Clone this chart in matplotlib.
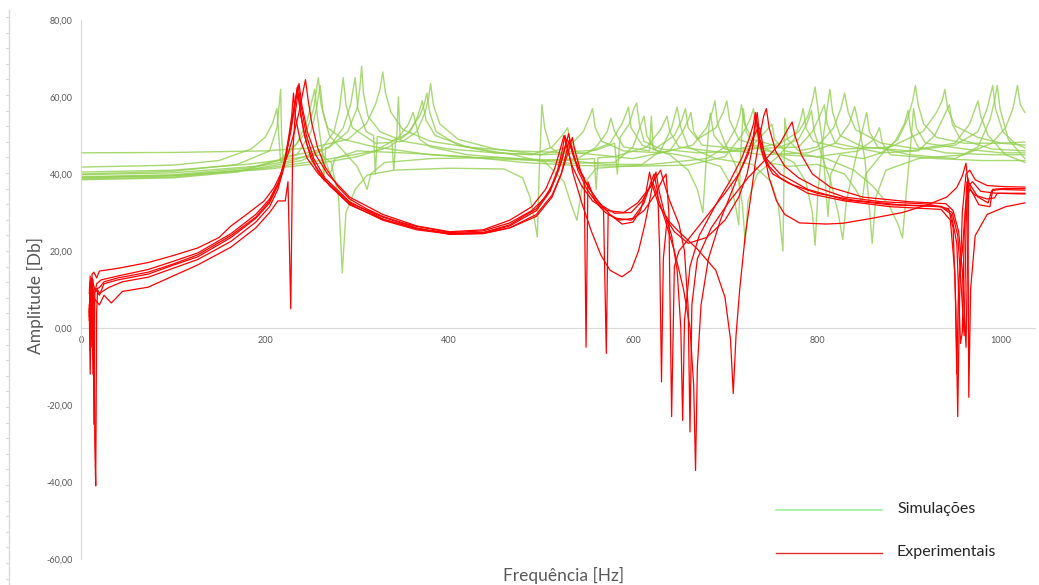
import matplotlib
matplotlib.use("Agg")
import matplotlib.pyplot as plt
from matplotlib.lines import Line2D
import numpy as np

plt.rcParams['font.family'] = ['Lato', 'DejaVu Sans']

# Curvas simuladas (frequência [Hz], amplitude [Db])
SIM_1 = [(0, 45.5), (100, 45.6), (200, 46), (250, 46.8), (290, 49), (310, 53), (320, 58), (325, 62), (328, 66.5),
         (331, 61), (337, 56), (350, 51.5), (380, 48.5), (420, 47), (470, 46), (520, 45.6), (560, 46.2), (580, 48),
         (583, 40), (586, 49.5), (596, 53), (601, 57), (604, 58.4), (607, 53), (612, 48.5), (630, 46.5), (670, 45.5),
         (720, 46), (760, 48), (780, 51), (790, 55), (795, 59), (798, 62.6), (801, 57), (806, 48), (810, 35),
         (812, 29), (815, 40), (825, 45), (850, 44), (870, 45.5), (888, 49), (898, 54), (904, 59), (907, 63),
         (910, 58), (916, 53), (930, 49.5), (960, 48), (1000, 48), (1026, 48.3)]
SIM_2 = [(0, 41.8), (100, 42.3), (150, 43.5), (185, 46.5), (200, 49.5), (208, 53), (213, 57), (215, 50), (217, 43),
         (222, 44.5), (245, 45.5), (262, 46.5), (264, 38), (266, 46.8), (270, 47), (290, 51), (300, 57), (303, 62),
         (305, 68), (307, 61), (312, 55), (325, 51), (350, 48.5), (400, 46.5), (450, 45.5), (500, 45), (530, 47),
         (546, 51), (553, 55), (556, 57), (559, 52), (566, 48.5), (590, 46), (630, 45.5), (665, 47.5), (680, 52),
         (686, 56), (689, 59), (692, 53), (700, 48), (712, 42), (719, 32), (722, 22), (725, 33), (735, 40),
         (755, 44), (775, 49), (782, 54), (785, 57), (788, 52), (796, 48.5), (830, 46.5), (880, 47), (915, 51),
         (930, 56), (936, 59), (939, 62), (942, 57), (950, 52.5), (975, 49.5), (1000, 48), (1026, 47.5)]
SIM_3 = [(0, 40.5), (100, 41), (180, 42.5), (230, 44), (260, 45), (272, 43), (280, 34), (284, 14.3), (288, 30),
         (298, 36), (311, 39.7), (340, 41), (400, 41.5), (460, 41.3), (480, 39), (488, 34), (493, 28), (496, 23.6),
         (498, 40), (501, 58), (504, 52), (510, 47), (530, 43.5), (570, 42.5), (610, 42.5), (630, 46), (642, 52),
         (648, 57.4), (652, 52), (660, 47), (690, 44), (730, 42.5), (750, 38), (758, 32), (763, 20), (765, 54.5),
         (768, 49), (780, 46), (800, 47), (818, 52), (826, 57), (830, 61), (834, 56), (842, 51.5), (870, 48),
         (910, 46.5), (950, 48), (966, 53), (972, 57), (975, 59), (978, 55), (986, 50), (1005, 45), (1026, 43)]
SIM_4 = [(0, 40), (100, 40.7), (170, 42.5), (205, 46), (213, 52), (217, 62), (218, 50), (220, 43), (228, 46),
         (245, 51), (253, 57), (256, 62), (258, 65), (261, 58), (268, 52), (285, 49), (320, 47), (380, 45),
         (440, 44), (500, 43.5), (540, 44), (560, 47), (572, 51), (576, 54.5), (580, 51), (590, 47), (618, 46),
         (620, 55), (622, 46.2), (645, 50), (653, 54), (657, 57), (660, 52), (670, 49), (690, 52), (698, 56),
         (702, 59), (705, 54), (715, 49), (750, 46), (775, 43), (788, 38), (795, 30), (798, 21.5), (801, 35),
         (806, 48), (811, 57), (814, 62), (817, 56), (825, 50), (850, 47), (900, 46), (950, 47.5), (975, 51),
         (985, 57), (991, 63), (994, 57), (1002, 51), (1015, 48), (1026, 46.8)]
SIM_5 = [(0, 39.3), (100, 39.8), (180, 41.5), (230, 43.5), (260, 46), (275, 51), (281, 57), (285, 65), (288, 58),
         (295, 52), (320, 48), (338, 48.2), (340, 41), (342, 48.3), (350, 48.5), (365, 51), (374, 56), (378, 60),
         (380, 63.5), (383, 58), (390, 53), (410, 49), (450, 46.5), (500, 45), (550, 45.5), (575, 48), (588, 53),
         (593, 56), (595, 57.4), (598, 52), (610, 47.5), (640, 45), (660, 41), (670, 36), (676, 30), (680, 45),
         (684, 55.8), (688, 50), (700, 46.5), (740, 45), (790, 45.5), (820, 48), (835, 53), (841, 57.5), (846, 52),
         (852, 44), (856, 34), (860, 22), (864, 34), (875, 41), (910, 44), (960, 45), (990, 48), (1005, 52),
         (1013, 57), (1018, 63), (1021, 58), (1026, 56)]
SIM_6 = [(0, 38.7), (100, 39.2), (180, 41), (240, 43.5), (270, 47), (285, 52), (293, 58), (298, 65), (301, 57),
         (310, 51), (318, 50), (320, 40), (322, 49.8), (340, 48.5), (358, 51), (366, 55), (371, 59), (375, 54),
         (385, 50), (420, 47), (470, 45), (505, 43), (525, 38), (533, 32), (539, 28), (545, 37), (560, 41.5),
         (620, 42.5), (680, 44), (700, 47), (712, 52), (716, 55), (718, 58), (721, 53), (730, 49), (760, 47),
         (780, 49), (789, 53), (794, 56.5), (797, 51), (805, 45), (815, 38), (823, 30), (828, 23), (832, 33),
         (842, 44), (849, 51), (854, 56), (857, 51), (866, 47), (900, 45), (950, 44), (975, 47), (988, 54),
         (993, 59), (996, 63), (999, 57), (1008, 49), (1026, 44)]
SIM_7 = [(0, 38.5), (100, 39), (170, 40.5), (215, 43.5), (235, 48), (246, 54), (251, 59), (254, 62), (257, 55),
         (262, 46), (268, 42), (271, 40), (276, 44), (300, 46), (350, 45.5), (420, 44.5), (480, 43), (540, 42.2),
         (600, 42), (660, 42.3), (700, 44.5), (718, 50), (727, 54), (731, 57), (733, 53), (737, 47), (745, 43),
         (770, 42), (800, 42.5), (830, 40), (842, 36), (849, 33), (853, 40), (870, 45), (885, 48.5), (895, 53),
         (899, 56.5), (902, 51), (910, 47), (940, 45.5), (990, 45), (1026, 45)]
SIM_8 = [(0, 39), (100, 39.5), (200, 41.5), (260, 43.5), (320, 46), (345, 49.5), (356, 53), (361, 56), (364, 53),
         (368, 49), (380, 47), (420, 45), (470, 44), (530, 42.8), (580, 43), (600, 47), (608, 52.5), (612, 55),
         (615, 50), (625, 46), (660, 44.5), (695, 42), (707, 37), (712, 31), (715, 26.8), (717, 45), (720, 57),
         (723, 51), (732, 47), (760, 45), (800, 44.5), (845, 46), (862, 49), (868, 52), (871, 48), (880, 45),
         (930, 44), (980, 43.5), (1026, 43.5)]
SIM_9 = [(0, 39.8), (100, 40.3), (190, 42), (235, 45), (250, 51), (256, 57), (260, 63), (263, 56), (270, 50),
         (285, 46), (300, 42), (307, 38.5), (311, 36), (315, 40), (330, 43), (380, 44), (450, 44.3), (520, 43.5),
         (558, 44), (560, 36), (562, 44.2), (580, 44.5), (615, 47), (630, 51.5), (637, 55), (640, 51), (650, 47),
         (700, 45.5), (730, 47.5), (744, 51), (751, 53), (754, 49), (765, 46), (810, 44), (840, 41), (860, 37),
         (878, 32), (888, 27), (893, 23.4), (897, 35), (902, 48), (905, 57), (908, 52), (918, 48), (960, 46.5),
         (1000, 45.5), (1026, 45.5)]
SIM_10 = [(0, 39.1), (100, 39.6), (200, 41.2), (260, 42.8), (300, 44.5), (335, 47), (343, 48.5), (345, 60),
          (347, 49), (355, 50.5), (368, 55), (373, 58), (376, 61), (379, 56), (386, 51), (410, 47.5), (450, 45.5),
          (490, 45), (512, 47), (523, 50), (529, 52), (532, 48), (540, 45.5), (600, 44), (640, 46), (654, 51),
          (660, 54), (663, 56), (666, 51), (675, 47.5), (720, 46.5), (780, 47), (795, 51), (803, 55), (808, 58),
          (811, 53), (820, 48), (870, 45.5), (910, 46), (928, 50), (938, 55), (944, 58), (947, 53), (956, 49),
          (990, 46.5), (1026, 46)]

# Curvas experimentais
EXP_1 = [(9, 9), (10, 13.5), (11, 2), (12, 14), (14, 14.5), (17, 13), (20, 14.8), (40, 15.5), (73, 17), (100, 18.8),
         (127, 20.8), (150, 23.5), (163, 26.5), (180, 29.5), (199, 33), (210, 36.5), (218, 40.5), (226, 46),
         (232, 51), (237, 56), (241, 61), (244, 64.5), (247, 59), (251, 53), (257, 47), (265, 42), (280, 36.5),
         (292, 33.5), (310, 31), (328, 29), (350, 27.3), (365, 26.4), (401, 24.8), (437, 25.2), (466, 27.3),
         (490, 30.5), (505, 34), (515, 38.5), (522, 43), (527, 47.5), (530, 50.5), (533, 47), (538, 43), (548, 38),
         (560, 33.5), (575, 29.5), (588, 27), (600, 27.5), (608, 30.5), (614, 35), (618, 40.5), (621, 37),
         (628, 32), (640, 27.5), (650, 25), (670, 20.5), (690, 15), (700, 8), (706, -3), (709, -17), (712, -2),
         (716, 10), (722, 24), (728, 34), (733, 43), (738, 50), (742, 55), (745, 57), (748, 52), (755, 46),
         (765, 42), (780, 39), (800, 36.5), (830, 34), (870, 32.8), (920, 32.2), (943, 31), (948, 26), (951, 5),
         (953, -23), (955, 8), (958, 30), (962, 40), (966, 41), (972, 38.5), (985, 37), (1005, 36.7), (1026, 36.6)]
EXP_2 = [(9, 6), (10, -6), (11, 11), (13, 12.5), (14, -25), (15, 9), (17, 11.5), (22, 12.5), (40, 13.5), (73, 15.2),
         (100, 17.3), (127, 19.5), (163, 24.5), (190, 29.5), (205, 33.5), (215, 38), (222, 44), (228, 51),
         (232, 57), (235, 62.5), (238, 57), (243, 50), (250, 44), (262, 39), (292, 32), (328, 28.2), (365, 25.8),
         (401, 24.5), (437, 24.7), (466, 26.5), (495, 30.5), (510, 35.5), (519, 41), (525, 46), (528, 49),
         (531, 48), (536, 44), (542, 41), (547, 39), (549, -5), (551, 38), (558, 33.5), (570, 30), (585, 28),
         (600, 28.5), (612, 32.5), (619, 37.5), (623, 40), (627, 35), (629, 20), (631, -14), (633, 18), (637, 28),
         (645, 25), (660, 22), (680, 23.5), (700, 28), (715, 34), (724, 40), (730, 47), (733, 53), (735, 56),
         (738, 49), (745, 44), (760, 40), (790, 36), (830, 33.3), (880, 32), (935, 31.5), (946, 29.5), (952, 22),
         (956, -4), (958, -1), (960, 24), (963, 38), (967, 37), (975, 34), (986, 32.5), (990, 35.7), (1000, 36),
         (1026, 35.8)]
EXP_3 = [(9, 3), (10, 10), (11, -3), (12, 11.5), (13, -12), (14, 9), (16, 10), (20, 8.5), (25, 11.5), (40, 12.5),
         (73, 14), (100, 16.3), (127, 18.5), (163, 23.5), (190, 28.5), (205, 32.5), (214, 37), (221, 43), (226, 50),
         (229, 55), (231, 61), (233, 55), (238, 49), (246, 44), (258, 40), (292, 32.5), (328, 28.8), (365, 26),
         (401, 24.3), (437, 24.5), (466, 26), (495, 29), (512, 34), (522, 40), (527, 45), (531, 49), (534, 46.5),
         (540, 41), (550, 36), (562, 32), (568, 30.5), (571, -6.6), (573, 29.5), (582, 28.5), (598, 28), (612, 30.5),
         (625, 35), (632, 38.5), (636, 40), (639, 30), (642, -23), (645, 16), (650, 20), (660, 23), (680, 29),
         (700, 35), (715, 40), (725, 45), (731, 50), (734, 55), (736, 51), (740, 46), (748, 42), (760, 39),
         (790, 35), (830, 33), (880, 31.5), (935, 30.8), (945, 28), (950, 14), (952, -12), (954, 12), (958, 20),
         (962, 33), (966, 36), (972, 34.5), (985, 33.5), (993, 33.8), (996, 35), (1026, 35)]
EXP_4 = [(9, 4), (10, 12), (11, -2), (12, 12.5), (15, 10), (20, 10.5), (25, 12), (40, 13), (73, 14.5), (100, 16.6),
         (127, 19), (163, 24), (190, 28.8), (205, 33), (215, 38), (223, 45), (228, 52), (232, 58), (236, 63),
         (239, 58), (245, 50), (253, 44), (265, 39), (292, 32.8), (328, 28.3), (365, 25.8), (401, 24.6), (437, 24.8),
         (466, 26.8), (495, 31), (510, 36), (518, 41), (523, 46), (526, 50), (529, 47), (535, 40), (545, 32),
         (555, 25), (565, 19), (575, 15), (588, 13.3), (598, 15), (606, 20), (613, 27), (618, 33), (622, 38),
         (625, 40.5), (628, 36), (634, 30), (642, 24), (648, 15), (652, 0), (654, -24), (656, 2), (662, 16),
         (672, 24), (690, 32), (705, 38), (718, 44), (726, 49), (731, 53), (733, 56), (736, 50), (742, 44),
         (752, 40), (770, 37.5), (800, 35), (840, 33.2), (890, 32), (935, 31.6), (947, 30), (953, 24), (957, 10),
         (960, -2), (962, 26), (964, 39), (967, 36), (976, 32), (988, 31.5), (991, 36), (1000, 36.2), (1026, 36.2)]
EXP_5 = [(9, 2), (10, 11), (11, -5), (12, 8), (13, 4.5), (15, 7.5), (20, 6), (25, 8.5), (33, 6.5), (45, 9.5),
         (73, 10.6), (100, 13.5), (127, 16.4), (163, 21), (190, 26), (205, 30), (214, 33), (222, 33), (225, 38),
         (228, 5), (230, 45), (233, 56), (236, 61), (239, 55), (245, 48), (255, 42), (270, 37), (292, 32.2),
         (328, 28), (365, 25.5), (401, 24.4), (437, 24.6), (466, 26), (495, 29.5), (512, 34.5), (522, 40), (530, 46),
         (534, 49.5), (537, 46), (544, 40), (553, 36), (565, 32), (580, 29.8), (598, 30), (610, 33), (622, 38),
         (630, 41), (634, 37.5), (640, 33), (650, 27), (656, 20), (660, 5), (662, -27), (664, 6), (670, 18),
         (685, 26), (705, 33), (725, 39), (745, 44), (760, 48), (768, 51.5), (773, 53.5), (776, 50), (783, 45),
         (795, 40), (815, 36.5), (850, 34), (900, 32.8), (940, 32.3), (948, 30.5), (954, 25), (958, 15), (962, -5),
         (965, 37), (969, 38), (978, 35.5), (995, 35), (1026, 34.8)]
EXP_6 = [(9, 5), (10, -12), (11, 9), (12, 13), (13, -8), (14, 10), (15, -30), (16, -41), (17, 4), (18, 10), (20, 9),
         (30, 10.5), (45, 12), (73, 13.2), (100, 15.5), (127, 17.8), (163, 22.5), (190, 27.5), (205, 31.5), (214, 36),
         (221, 42), (226, 49), (230, 55), (234, 60), (237, 63.5), (240, 58), (246, 51), (255, 45), (268, 40),
         (292, 34), (328, 29.5), (365, 26.5), (401, 25), (437, 25.5), (466, 28), (490, 31.5), (505, 36), (515, 41.5),
         (521, 46.5), (525, 50), (528, 47), (534, 42), (544, 37), (556, 33), (572, 30.5), (590, 30), (605, 32.5),
         (615, 35.5), (622, 37.5), (627, 34), (635, 28), (645, 20), (655, 10), (662, 0), (666, -15), (668, -37),
         (670, -10), (674, 6), (682, 18), (695, 28), (710, 37), (722, 44), (730, 49), (735, 51.5), (738, 52),
         (742, 46), (748, 39), (756, 33), (765, 29.5), (781, 27.3), (810, 27), (828, 27.2), (860, 28.5), (893, 30),
         (920, 32), (941, 34), (952, 36.5), (958, 39.5), (962, 42.8), (964, 38), (965, -18), (967, 10), (972, 24),
         (985, 29.5), (1005, 31.5), (1026, 32.5)]

simulacoes = [SIM_1, SIM_2, SIM_3, SIM_4, SIM_5, SIM_6, SIM_7, SIM_8, SIM_9, SIM_10]
experimentais = [EXP_1, EXP_2, EXP_3, EXP_4, EXP_5, EXP_6]

W, H = 1039, 585
fig = plt.figure(figsize=(W / 100, H / 100), dpi=100)
ax = fig.add_axes([81 / W, 26 / H, 954 / W, 539 / H])

for curva in simulacoes:
    c = np.array(curva)
    ax.plot(c[:, 0], c[:, 1], color='#92D050', lw=1.0, alpha=0.8)
for curva in experimentais:
    c = np.array(curva)
    ax.plot(c[:, 0], c[:, 1], color='#FF0000', lw=0.9)

ax.set_xlim(0, 1037)
ax.set_ylim(-60, 80)
ax.set_yticks(np.arange(-60, 81, 20))
ax.set_yticklabels([f"{v:.2f}".replace('.', ',') for v in np.arange(-60, 81, 20)])
ax.set_xticks(np.arange(0, 1001, 200))
ax.set_xticklabels([str(v) for v in np.arange(0, 1001, 200)])
ax.tick_params(length=0, labelsize=6.5, labelcolor='#595959')
ax.tick_params(axis='y', pad=6)
ax.tick_params(axis='x', pad=6)

for s in ['top', 'right']:
    ax.spines[s].set_visible(False)
ax.spines['bottom'].set_position(('data', 0))
ax.spines['bottom'].set_color('#d9d9d9')
ax.spines['left'].set_color('#d9d9d9')
ax.spines['bottom'].set_zorder(0)

fig.text(35 / W, 1 - 296 / H, 'Amplitude [Db]', rotation=90, ha='center', va='center',
         fontsize=12.5, color='#595959')
fig.text(564 / W, 1 - 575 / H, 'Frequência [Hz]', ha='center', va='center', fontsize=12.5, color='#595959')

# legenda desenhada à mão
fig.add_artist(Line2D([776 / W, 882 / W], [1 - 510 / H] * 2, color='#9fef9f', lw=1.2))
fig.add_artist(Line2D([776 / W, 882 / W], [1 - 553 / H] * 2, color='#e03030', lw=1.0))
fig.text(897 / W, 1 - 509 / H, 'Simulações', ha='left', va='center', fontsize=11.5, color='#262626')
fig.text(897 / W, 1 - 552 / H, 'Experimentais', ha='left', va='center', fontsize=11.5, color='#262626')

# régua na margem esquerda
fig.add_artist(Line2D([9 / W, 9 / W], [0, 1 - 10 / H], color='#d9d9d9', lw=1))
for yp in np.arange(17, 585, 15.6):
    fig.add_artist(Line2D([6 / W, 9 / W], [1 - yp / H] * 2, color='#d9d9d9', lw=0.8))

fig.savefig('out.png', dpi=100)
